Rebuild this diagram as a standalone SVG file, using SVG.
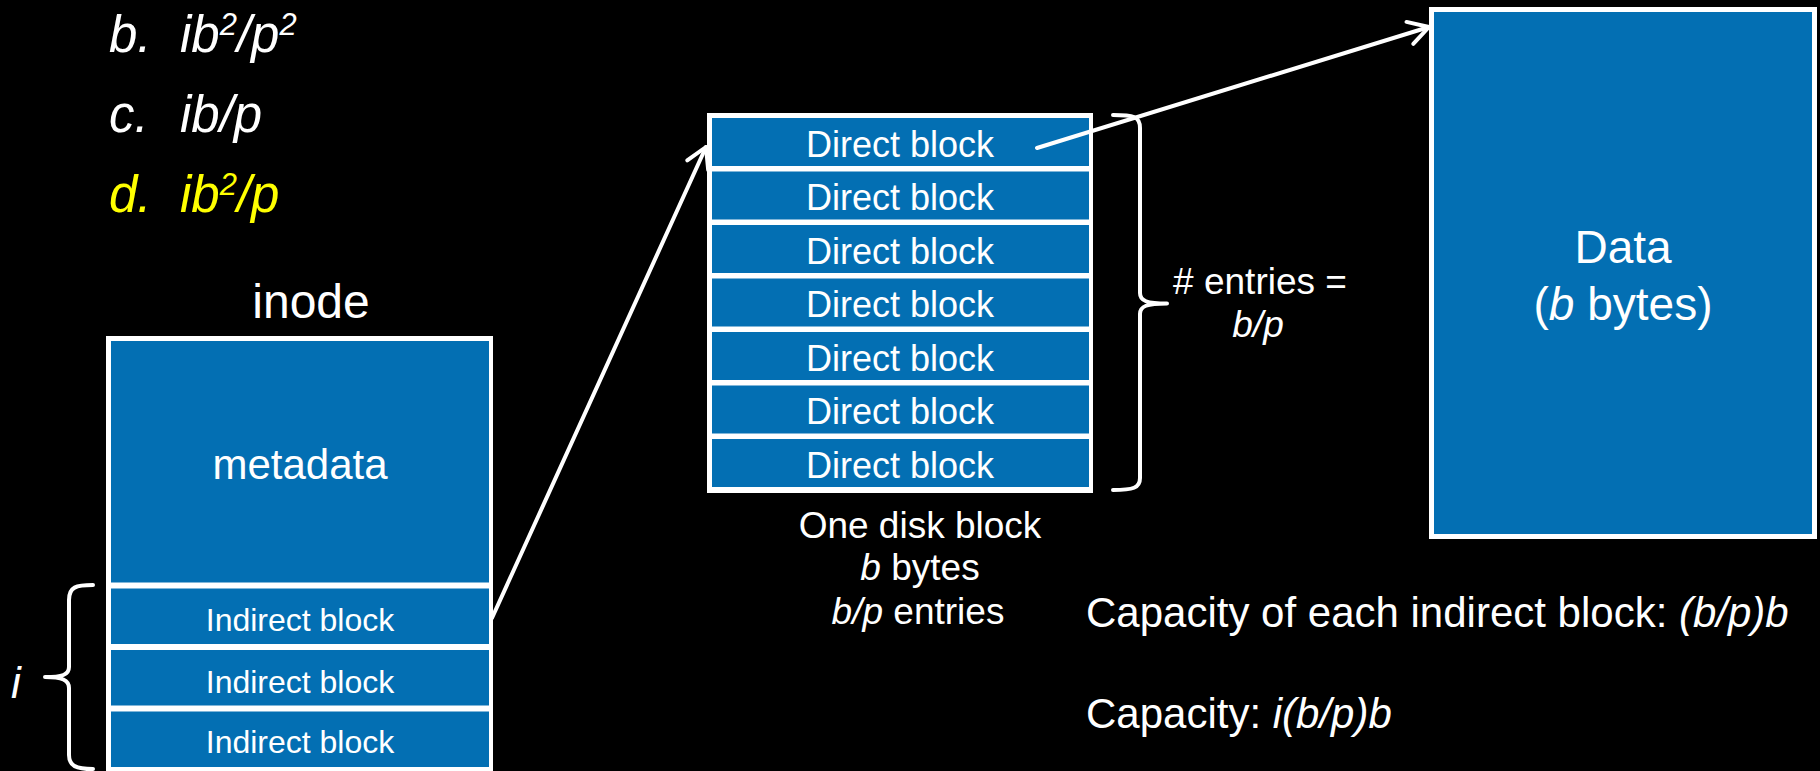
<svg xmlns="http://www.w3.org/2000/svg" width="1820" height="771" viewBox="0 0 1820 771">
<style>
.t{font-family:"Liberation Sans",Arial,Helvetica,sans-serif;fill:#ffffff}
.it{font-style:italic}
.y{fill:#ffff00}
.blk{fill:#036fb3}
.frame{fill:#ffffff}
.conn{stroke:#ffffff;stroke-width:4;fill:none;stroke-linecap:round;stroke-linejoin:round}
.mid{text-anchor:middle}
</style>
<defs>
<marker id="arr" markerUnits="userSpaceOnUse" viewBox="-26 -15 30 30" markerWidth="30" markerHeight="30" refX="0" refY="0" orient="auto" overflow="visible">
<path d="M -20 -11.5 L 0 0 L -20 11.5" fill="none" stroke="#ffffff" stroke-width="4" stroke-linecap="round" stroke-linejoin="round"/>
</marker>
</defs>
<rect x="0" y="0" width="1820" height="771" fill="#000000"/>

<g id="answers">
<text class="t it" x="109" y="52" font-size="51">b.</text>
<text class="t it" x="180" y="52" font-size="51">ib<tspan font-size="31" dy="-17">2</tspan><tspan dy="17">/p</tspan><tspan font-size="31" dy="-17">2</tspan></text>
<text class="t it" x="109" y="132" font-size="51">c.</text>
<text class="t it" x="180" y="132" font-size="51">ib/p</text>
<text class="t it y" x="109" y="212" font-size="51">d.</text>
<text class="t it y" x="180" y="212" font-size="51">ib<tspan font-size="31" dy="-17">2</tspan><tspan dy="17">/p</tspan></text>
</g>

<g id="inode">
<text class="t mid" x="311" y="318" font-size="48">inode</text>
<rect class="frame" x="106" y="336" width="387" height="440"/>
<rect class="blk" x="111" y="341" width="378" height="241.5"/>
<text class="t mid" x="300" y="479" font-size="42">metadata</text>
<rect class="blk" x="111" y="588.5" width="378" height="55.5"/>
<text class="t mid" x="300" y="631" font-size="32">Indirect block</text>
<rect class="blk" x="111" y="650" width="378" height="55.5"/>
<text class="t mid" x="300" y="693" font-size="32">Indirect block</text>
<rect class="blk" x="111" y="711.5" width="378" height="55.5"/>
<text class="t mid" x="300" y="753" font-size="32">Indirect block</text>
</g>

<g id="i-brace">
<path class="conn" d="M 93 585 C 76 585 69 587 69 600 L 69 667 C 69 675 62 677 45 677 C 62 677 69 680 69 688 L 69 755 C 69 766 76 769 93 769"/>
<text class="t it" x="11" y="698" font-size="44">i</text>
</g>

<g id="disk-block">
<rect class="frame" x="707" y="113" width="386" height="380"/>
<rect class="blk" x="712" y="118" width="377" height="48"/>
<rect class="blk" x="712" y="171.5" width="377" height="48"/>
<rect class="blk" x="712" y="225" width="377" height="48"/>
<rect class="blk" x="712" y="278.5" width="377" height="48"/>
<rect class="blk" x="712" y="332" width="377" height="48"/>
<rect class="blk" x="712" y="385.5" width="377" height="48"/>
<rect class="blk" x="712" y="439" width="377" height="48"/>
<text class="t mid" x="900" y="156.5" font-size="36">Direct block</text>
<text class="t mid" x="900" y="210" font-size="36">Direct block</text>
<text class="t mid" x="900" y="263.5" font-size="36">Direct block</text>
<text class="t mid" x="900" y="317" font-size="36">Direct block</text>
<text class="t mid" x="900" y="370.5" font-size="36">Direct block</text>
<text class="t mid" x="900" y="424" font-size="36">Direct block</text>
<text class="t mid" x="900" y="477.5" font-size="36">Direct block</text>
<text class="t mid" x="920" y="538" font-size="37">One disk block</text>
<text class="t mid" x="920" y="580" font-size="37"><tspan class="it">b</tspan> bytes</text>
<text class="t mid" x="918" y="624" font-size="37"><tspan class="it">b/p</tspan> entries</text>
</g>

<g id="entries-brace">
<path class="conn" d="M 1113 115 C 1133 115 1140 116 1140 128 L 1140 293 C 1140 301 1147 303.5 1167 303.5 C 1147 303.5 1140 306 1140 314 L 1140 478 C 1140 488 1133 490 1113 490"/>
<text class="t mid" x="1260" y="294" font-size="37"># entries =</text>
<text class="t mid it" x="1258" y="337" font-size="37">b/p</text>
</g>

<g id="data">
<rect class="frame" x="1429" y="7" width="388" height="532"/>
<rect class="blk" x="1434" y="12" width="378" height="522"/>
<text class="t mid" x="1623" y="263" font-size="46">Data</text>
<text class="t mid" x="1623" y="320" font-size="46">(<tspan class="it">b</tspan> bytes)</text>
</g>

<g id="capacity">
<text class="t" x="1086" y="627" font-size="42">Capacity of each indirect block: <tspan class="it">(b/p)b</tspan></text>
<text class="t" x="1086" y="728" font-size="42">Capacity: <tspan class="it">i(b/p)b</tspan></text>
</g>

<g id="connectors">
<line class="conn" x1="492" y1="618" x2="706" y2="147" marker-end="url(#arr)"/>
<line class="conn" x1="1037" y1="148" x2="1429" y2="27" marker-end="url(#arr)"/>
</g>
</svg>
